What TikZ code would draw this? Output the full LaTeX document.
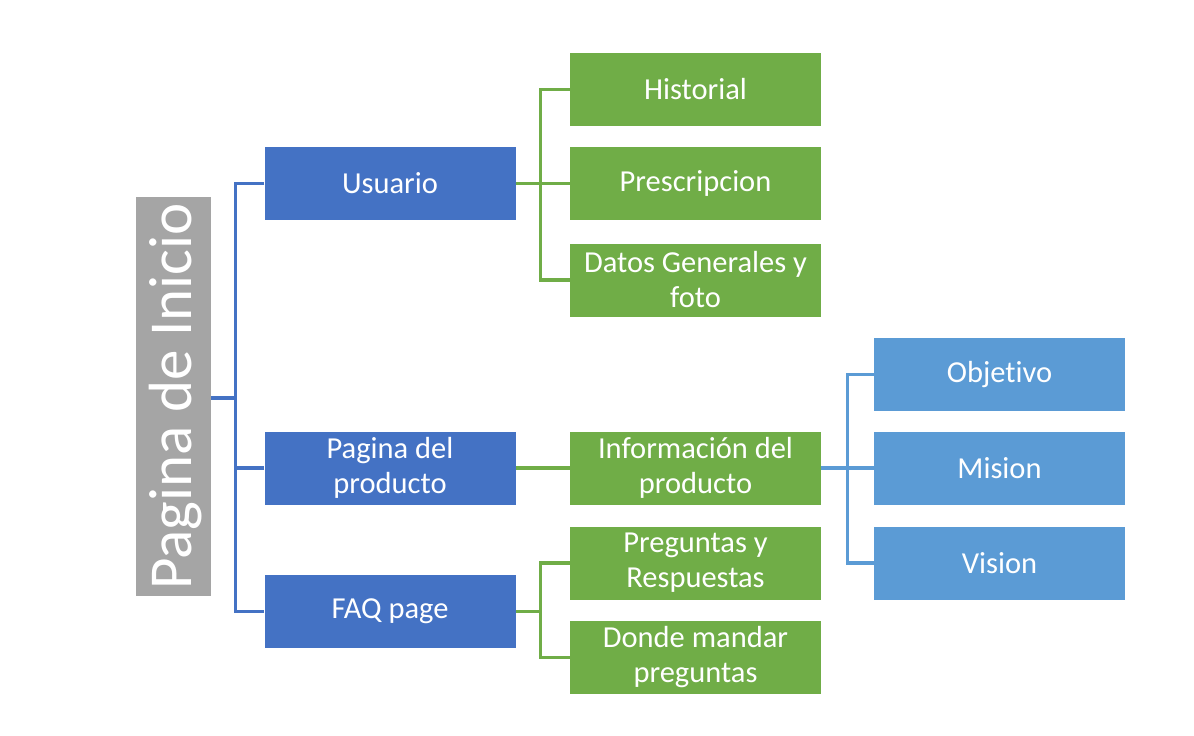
\documentclass[tikz,border=0pt]{standalone}
\usepackage{fontspec}
\setmainfont{Carlito}[Ligatures=NoCommon]
\definecolor{dblue}{HTML}{4472C4}
\definecolor{lblue}{HTML}{5B9BD5}
\definecolor{ogreen}{HTML}{70AD47}
\definecolor{ogray}{HTML}{A5A5A5}
\begin{document}
\begin{tikzpicture}[x=1pt,y=-1pt,
  box/.style={rectangle,minimum width=251pt,minimum height=73pt,inner sep=0pt,
    text=white,align=center,font=\fontsize{30.5}{35}\selectfont},
  bluebox/.style={box,fill=dblue},
  greenbox/.style={box,fill=ogreen},
  lbluebox/.style={box,fill=lblue},
  conn/.style={line width=3.2pt}]
\useasboundingbox (0,0) rectangle (1194,736);
\fill[white] (0,0) rectangle (1194,736);
% title
\node[fill=ogray,minimum width=75pt,minimum height=399pt,inner sep=0pt] (title) at (173.5,396.5) {};
\node[rotate=90,text=white,font=\fontsize{61}{64}\selectfont] (titletext) at (176,396.5) {Pagina de Inicio};
% level 1
\node[bluebox] (usu) at (390,183.5) {Usuario};
\node[bluebox] (pag) at (390,468) {Pagina del\\producto};
\node[bluebox] (faq) at (390,611.5) {FAQ page};
% level 2
\node[greenbox] (his) at (695.5,89.5) {Historial};
\node[greenbox] (pre) at (695.5,183.5) {Prescripcion};
\node[greenbox] (dat) at (695.5,280) {Datos Generales y\\foto};
\node[greenbox] (inf) at (695.5,468) {Información del\\producto};
\node[greenbox] (pyr) at (695.5,563) {Preguntas y\\Respuestas};
\node[greenbox] (don) at (695.5,657.5) {Donde mandar\\preguntas};
% level 3
\node[lbluebox] (obj) at (999.5,374.5) {Objetivo};
\node[lbluebox] (mis) at (999.5,468) {Mision};
\node[lbluebox] (vis) at (999.5,563) {Vision};
% connectors
\coordinate (b0) at (236,398);
\draw[conn,dblue] (title.east |- b0) -- (b0);
\draw[conn,dblue] (usu.west) -- ++(-29,0) |- (faq.west);
\draw[conn,dblue] (pag.west) -- ++(-29,0);
\coordinate (g0) at (541,183.5);
\draw[conn,ogreen] (usu.east) -- (g0);
\draw[conn,ogreen] (his.west) -- ++(-29,0) |- (dat.west);
\draw[conn,ogreen] (pre.west) -- ++(-29,0);
\draw[conn,ogreen] (pag.east) -- (inf.west);
\coordinate (g1) at (541,611.5);
\draw[conn,ogreen] (faq.east) -- (g1);
\draw[conn,ogreen] (pyr.west) -- ++(-29,0) |- (don.west);
\coordinate (l0) at (848,468);
\draw[conn,lblue] (inf.east) -- (l0);
\draw[conn,lblue] (obj.west) -- ++(-26,0) |- (vis.west);
\draw[conn,lblue] (mis.west) -- ++(-26,0);
\end{tikzpicture}
\end{document}
